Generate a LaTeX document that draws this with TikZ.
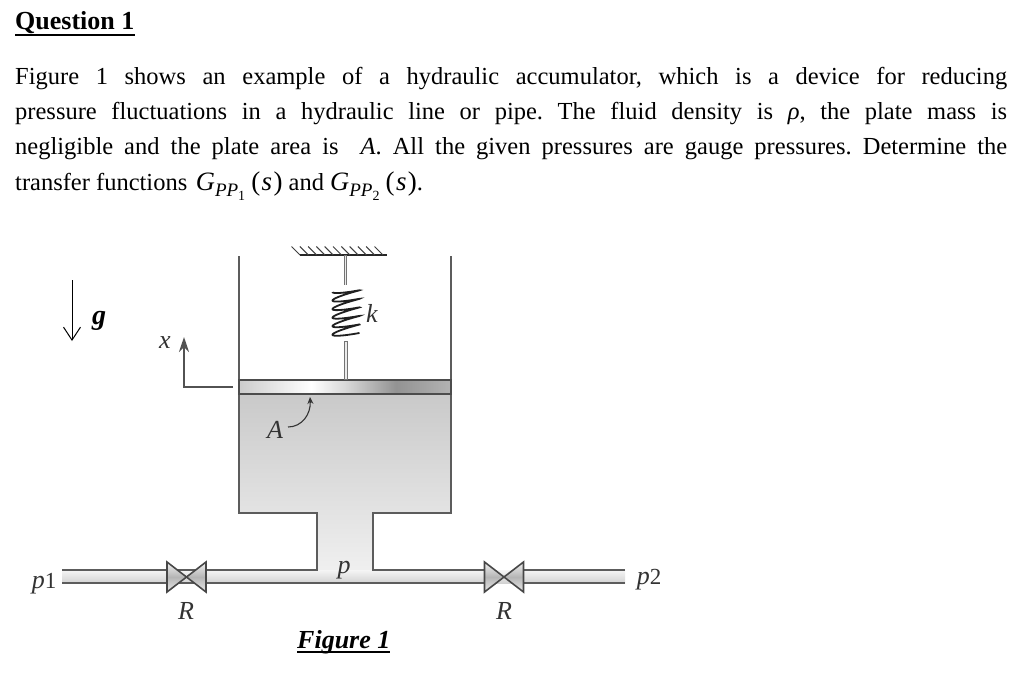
\documentclass[tikz,border=0pt]{standalone}
\usepackage{fontspec}
\setmainfont{Liberation Serif}
\usetikzlibrary{arrows.meta}
\definecolor{wallc}{gray}{0.36}
\pgfdeclarehorizontalshading{plateshade}{100bp}{
  color(0bp)=(gray!40!white); color(25bp)=(gray!40!white); color(42bp)=(white); color(50bp)=(gray!30!white);
  color(62bp)=(gray!85!white); color(75bp)=(gray!60!white); color(100bp)=(gray!60!white)}
\tikzset{
  x=1pt,y=-1pt,
  bodytext/.style={inner sep=0pt,anchor=base west,font=\fontsize{24.5}{30}\selectfont},
  lab/.style={inner sep=0pt,anchor=base,font=\fontsize{26}{28}\selectfont\itshape,text=black!80},
  wall/.style={draw=wallc,line width=1.8pt},
  rodouter/.style={draw=black!55,line width=3.4pt},
  rodinner/.style={draw=black!8,line width=1.2pt},
  valvetri/.style={draw=black!72,line width=1.6pt,top color=gray!12,bottom color=gray!18,middle color=gray!58},
}
\newcommand{\Gsub}[1]{{\fontsize{26.5}{30}\selectfont\textit{G}}\raisebox{-.24em}{\fontsize{19}{20}\selectfont\textit{PP}\raisebox{-.2em}{\fontsize{14}{15}\selectfont #1}}\kern.25em{\fontsize{27}{30}\selectfont(\kern.05em\textit{s}\kern.05em)}}
\begin{document}
\begin{tikzpicture}
\useasboundingbox (0,0) rectangle (1024,675);
\fill[white] (0,0) rectangle (1024,675);
% text
\node[bodytext,font=\fontsize{26}{30}\selectfont\bfseries] (title) at (15,29) {Question 1};
\draw[line width=2pt] (15,34.5) -- (135,34.5);
\node[bodytext] (l1) at (15,84.5) {\frenchspacing\makebox[992pt][s]{Figure 1 shows an example of a hydraulic accumulator, which is a device for reducing}};
\node[bodytext] (l2) at (15,119.5) {\frenchspacing\makebox[992pt][s]{pressure fluctuations in a hydraulic line or pipe. The fluid density is \textit{ρ}, the plate mass is}};
\node[bodytext] (l3) at (15,154.5) {\frenchspacing\makebox[992pt][s]{negligible and the plate area is \ \textit{A}. All the given pressures are gauge pressures. Determine the}};
\node[bodytext] (l4) at (15,190.5) {transfer functions\kern.1em\ \Gsub{1} and \Gsub{2}.};
% fluid
\fill[top color=gray!42,bottom color=gray!12,shading angle=0]
  (239,394) -- (451,394) -- (451,513) -- (373,513) -- (373,571) -- (317,571) -- (317,513) -- (239,513) -- cycle;
% pipe
\fill[top color=gray!8,bottom color=gray!35] (62,570) rectangle (625,583);
% pipe and vessel outlines
\draw[wall] (239,256) -- (239,513) -- (317,513) -- (317,570) -- (167,570);
\draw[wall] (451,256) -- (451,513) -- (373,513) -- (373,570) -- (485,570);
\draw[wall] (167,583) -- (485,583);
\draw[wall] (62,570) -- (167,570) (62,583) -- (167,583);
\draw[wall] (523,570) -- (625,570) (523,583) -- (625,583);
% plate
\shade[shading=plateshade] (239,380) rectangle (451,394);
\draw[draw=black!70,line width=1.8pt] (239,380) rectangle (451,394);
% ceiling
\draw[black!85,line width=1.5pt] (300,255) -- (387,255);
\foreach \i in {0,...,10} \draw[black!75,line width=1pt] (300+8.3*\i,255) -- ++(-8.5,-8.5);
% spring
\draw[rodouter] (345.5,255) -- (345.5,285);
\draw[rodinner] (345.5,256) -- (345.5,285);
\draw[rodouter] (346,341) -- (346,380);
\draw[rodinner] (346,342) -- (346,379);
\draw[black!88,line width=1.8pt,smooth] plot[domain=-90:1890,samples=240,variable=\t]
  ({346+13.5*sin(\t)},{289+(\t+90)/1980*47+1.2*cos(\t)-3*sin(\t)});
% valves
\foreach \c in {186.5,504}{
  \draw[valvetri] (\c-19.5,562) -- (\c,577) -- (\c-19.5,592) -- cycle;
  \draw[valvetri] (\c+19.5,562) -- (\c,577) -- (\c+19.5,592) -- cycle;
}
% g arrow and x arrow
\coordinate (gs) at (72,280); \coordinate (ge) at (72,341);
\draw[black,line width=1pt,-{Straight Barb[length=13pt,width=17pt,line width=1pt]}] (gs) -- (ge);
\coordinate (xs) at (233,387); \coordinate (xc) at (184,387); \coordinate (xe) at (184,337);
\draw[black!68,line width=1.8pt,-{Stealth[length=15pt,width=10pt]}] (xs) -- (xc) -- (xe);
% A arrow
\coordinate (as) at (288,427); \coordinate (ae) at (310,397);
\draw[black!80,line width=1.1pt,-{Stealth[length=7pt,width=6pt]}] (as) .. controls (302,427) and (311,414) .. (ae);
% labels
\node[lab,font=\fontsize{28}{30}\selectfont\bfseries\itshape,text=black] (g) at (99,324) {g};
\node[lab] (x) at (165,348) {x};
\node[lab] (k) at (372,322) {k};
\node[lab] (A) at (275,438) {A};
\node[lab] (p) at (344,573) {p};
\node[lab] (p1) at (44,588) {p\fontsize{23}{26}\selectfont\upshape 1};
\node[lab] (p2) at (649,584) {p\fontsize{23}{26}\selectfont\upshape 2};
\node[lab] (R1) at (186,619) {R};
\node[lab] (R2) at (504,619) {R};
\node[bodytext,font=\fontsize{26}{30}\selectfont\bfseries\itshape] (fig) at (297,648) {Figure 1};
\draw[line width=2pt] (297,652) -- (390,652);
\end{tikzpicture}
\end{document}
